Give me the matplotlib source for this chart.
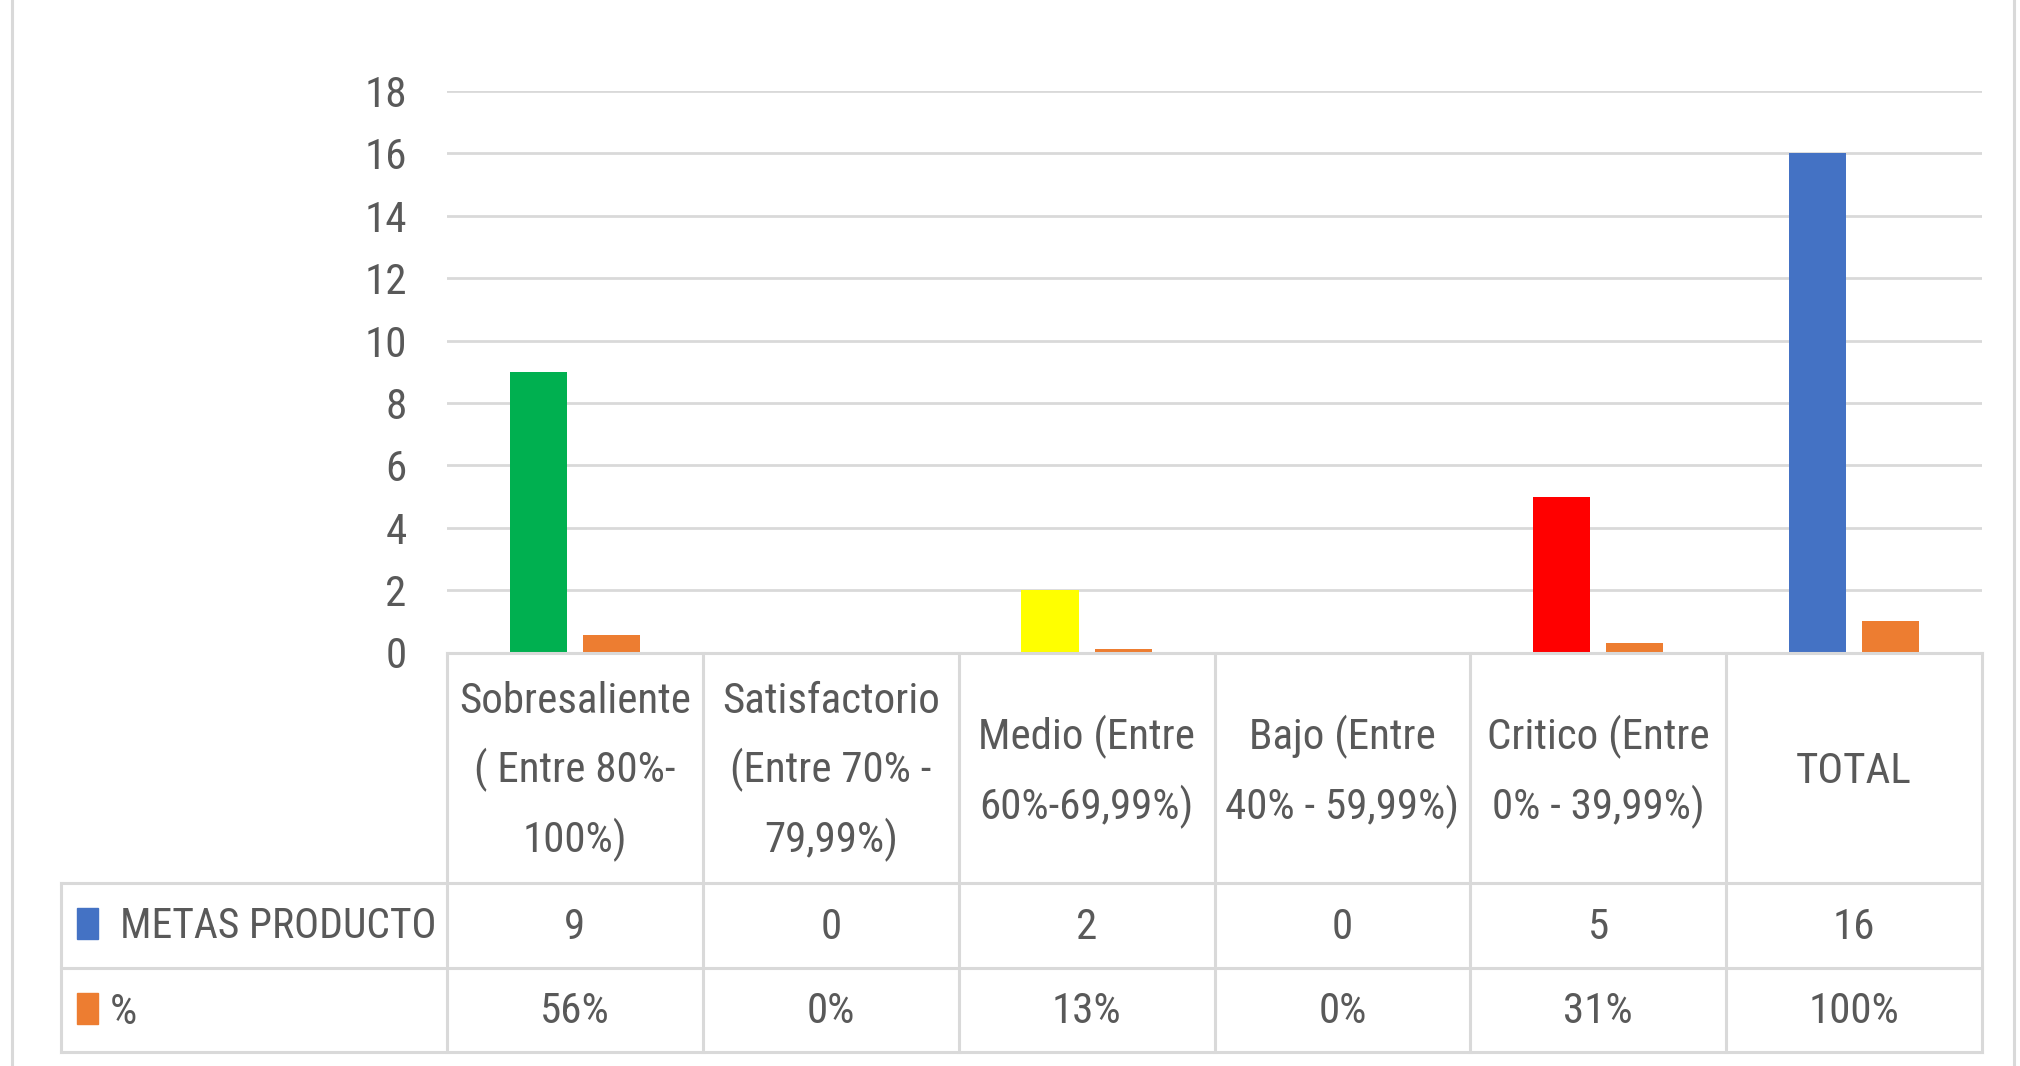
import matplotlib
matplotlib.use("Agg")
import matplotlib.pyplot as plt
from matplotlib import font_manager
from matplotlib.transforms import blended_transform_factory
from matplotlib.lines import Line2D
from matplotlib.patches import Rectangle

# ---- data ----
categories = ["Sobresaliente\n( Entre 80%-\n100%)", "Satisfactorio\n(Entre 70% -\n79,99%)",
              "Medio (Entre\n60%-69,99%)", "Bajo (Entre\n40% - 59,99%)",
              "Critico (Entre\n0% - 39,99%)", "TOTAL"]
metas = [9, 0, 2, 0, 5, 16]
pct = [0.5625, 0.0, 0.125, 0.0, 0.3125, 1.0]
pct_labels = ["56%", "0%", "13%", "0%", "31%", "100%"]
series_names = ["METAS PRODUCTO", "%"]
metas_colors = ["#00B050", "#00B050", "#FFFF00", "#FFFF00", "#FF0000", "#4472C4"]
series_colors = ["#4472C4", "#ED7D31"]
yticks = list(range(0, 19, 2))

# ---- font ----
fam = "DejaVu Sans"
for cand in ["Liberation Sans Narrow", "Roboto Condensed", "Open Sans Condensed", "Liberation Sans"]:
    try:
        font_manager.findfont(font_manager.FontProperties(family=cand), fallback_to_default=False)
        fam = cand
        break
    except Exception:
        continue
plt.rcParams["font.family"] = [fam, "DejaVu Sans"]

TXT = "#595959"
GRID = "#D9D9D9"
FS = 31

W, H = 2020, 1066
fig = plt.figure(figsize=(W / 100, H / 100), dpi=100)
fig.patch.set_facecolor("white")

def fx(px):
    return px / W

def fy(py):
    return 1 - py / H

ax_l, ax_r, ax_b, ax_t = 447, 1982, 652.5, 91
ax = fig.add_axes([fx(ax_l), fy(ax_b), fx(ax_r - ax_l), fy(ax_t) - fy(ax_b)])
ax.set_xlim(-0.5, len(categories) - 0.5)
ax.set_ylim(0, 18)
for s in ax.spines.values():
    s.set_visible(False)
ax.set_yticks(yticks)
ax.set_yticklabels([str(t) for t in yticks], fontsize=FS, color=TXT)
ax.tick_params(axis="y", length=0, pad=29)
ax.set_xticks([])
for t in yticks[1:]:
    ax.axhline(t, color=GRID, lw=2, zorder=0)

x = list(range(len(categories)))
bw = 0.223
off = 0.143
ax.bar([i - off for i in x], metas, width=bw, color=metas_colors, zorder=2)
ax.bar([i + off for i in x], pct, width=bw, color=series_colors[1], zorder=2)

# ---- data table ----
tr = blended_transform_factory(ax.transData, fig.transFigure)
y0, y1, y2, y3 = 652.5, 883, 967.5, 1052
tab_left = 61

def fline(xs, ys, transform):
    fig.add_artist(Line2D(xs, ys, transform=transform, color=GRID, lw=2.2, clip_on=False))

# horizontal lines
fline([-0.5, len(categories) - 0.5], [fy(y0), fy(y0)], tr)
for yy in (y1, y2, y3):
    fline([fx(tab_left), fx(ax_r)], [fy(yy), fy(yy)], fig.transFigure)
# vertical lines
for i in range(len(categories) + 1):
    xb = -0.5 + i
    fline([xb, xb], [fy(y0), fy(y3)], tr)
fline([fx(tab_left), fx(tab_left)], [fy(y1), fy(y3)], fig.transFigure)

# header labels
for i, c in enumerate(categories):
    fig.text(i, fy((y0 + y1) / 2 + 4), c, transform=tr, ha="center", va="center",
             fontsize=FS, color=TXT, linespacing=1.75)
# values
for i in x:
    fig.text(i, fy((y1 + y2) / 2 + 2), str(metas[i]), transform=tr, ha="center", va="center",
             fontsize=FS, color=TXT)
    fig.text(i, fy((y2 + y3) / 2 + 2), pct_labels[i], transform=tr, ha="center", va="center",
             fontsize=FS, color=TXT)

# legend keys in table
for (yt, yb), col in zip([(908, 939), (993, 1024)], series_colors):
    fig.add_artist(Rectangle((fx(77), fy(yb)), fx(98) - fx(77), fy(yt) - fy(yb),
                             transform=fig.transFigure, color=col))
fig.text(fx(120), fy(927), series_names[0], ha="left", va="center", fontsize=30, color=TXT)
fig.text(fx(110), fy(1012), series_names[1], ha="left", va="center", fontsize=FS, color=TXT)

# outer chart frame sides
fline([fx(12), fx(12)], [0, 1], fig.transFigure)
fline([fx(2014), fx(2014)], [0, 1], fig.transFigure)

fig.savefig("out.png", dpi=100, facecolor="white")
